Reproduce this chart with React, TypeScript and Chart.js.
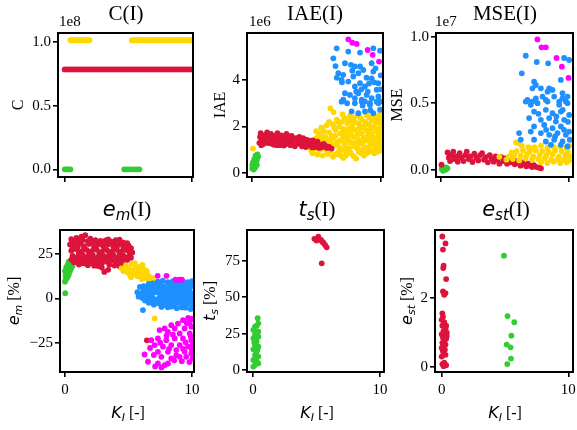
import { useEffect, useRef } from "react";
import { Chart, registerables } from "chart.js";
Chart.register(...registerables);

type P = [number, number];

const RED = "#DC143C";
const GOLD = "#FFD700";
const BLUE = "#1E90FF";
const MAG = "#FF00FF";
const GREEN = "#32CD32";

const SERIF = "'Liberation Serif', 'Times New Roman', serif";
const SANS = "'DejaVu Sans', sans-serif";

Chart.defaults.font.family = SERIF;
Chart.defaults.font.size = 15;
Chart.defaults.color = "#000";

// ---- shared x axis (K_I) ----
const kTicks = [0, 10];
const kTickLabels = ["0", "10"];

// ---- C(I), values in units of 1e8 ----
const cTicks = [0, 0.5, 1.0];
const cTickLabels = ["0.0", "0.5", "1.0"];
const cYellowLevel = 1.013;
const cYellowK = [0.45, 0.6, 0.75, 0.9, 1.05, 1.2, 1.35, 1.5, 1.65, 1.8, 1.95, 5.3, 5.45, 5.6, 5.75, 5.9, 6.05, 6.2, 6.35, 6.5, 6.65, 6.8, 6.95, 7.1, 7.25, 7.4, 7.55, 7.7, 7.85, 8.0, 8.15, 8.3, 8.45, 8.6, 8.75, 8.9, 9.05, 9.2, 9.35, 9.5, 9.65, 9.8, 9.95];
const cRedLevel = 0.784;
const cRedK = [0, 0.2, 0.4, 0.6, 0.8, 1.0, 1.2, 1.4, 1.6, 1.8, 2.0, 2.2, 2.4, 2.6, 2.8, 3.0, 3.2, 3.4, 3.6, 3.8, 4.0, 4.2, 4.4, 4.6, 4.8, 5.0, 5.2, 5.4, 5.6, 5.8, 6.0, 6.2, 6.4, 6.6, 6.8, 7.0, 7.2, 7.4, 7.6, 7.8, 8.0, 8.2, 8.4, 8.6, 8.8, 9.0, 9.2, 9.4, 9.6, 9.8, 10.0];
const cGreenLevel = 0;
const cGreenK = [0, 0.15, 0.3, 0.45, 4.7, 4.9, 5.1, 5.3, 5.5, 5.7, 5.9];

// ---- IAE(I), values in units of 1e6 ----
const iaeTicks = [0, 2, 4];
const iaeTickLabels = ["0", "2", "4"];
const iaeGreen: P[] = [[0.05, 0.2], [0.15, 0.15], [0.25, 0.22], [0.1, 0.3], [0.3, 0.3], [0.2, 0.4], [0.35, 0.45], [0.1, 0.45], [0.25, 0.55], [0.4, 0.55], [0.35, 0.65], [0.5, 0.7], [0.45, 0.8], [0.3, 0.75], [0.05, 0.35], [0.15, 0.25], [0.4, 0.35], [0.2, 0.6]];
const iaeYellowSingle: P[] = [[0.1, 1.05]];
const iaeRed: P[] = [[0.6, 1.3], [0.65, 1.55], [0.7, 1.72], [0.8, 1.45], [0.9, 1.25], [1.0, 1.62], [1.1, 1.38], [1.2, 1.75], [1.3, 1.52], [1.4, 1.28], [1.5, 1.68], [1.6, 1.42], [1.7, 1.22], [1.8, 1.6], [1.9, 1.35], [2.0, 1.72], [2.1, 1.5], [2.2, 1.2], [2.3, 1.62], [2.4, 1.4], [2.5, 1.18], [2.6, 1.55], [2.7, 1.68], [2.8, 1.32], [2.9, 1.45], [3.0, 1.2], [3.1, 1.6], [3.2, 1.38], [3.35, 1.15], [3.45, 1.5], [3.6, 1.28], [3.7, 1.55], [3.8, 1.4], [3.9, 1.15], [4.0, 1.5], [4.1, 1.3], [4.2, 1.12], [4.3, 1.42], [4.45, 1.25], [4.6, 1.38], [4.7, 1.1], [4.85, 1.3], [5.0, 1.2], [5.1, 1.35], [5.25, 1.08], [5.4, 1.22], [5.5, 1.12], [5.7, 1.18], [5.85, 1.08], [6.0, 1.12], [6.2, 1.05],
  [0.75, 1.2], [0.95, 1.5], [1.15, 1.3], [1.35, 1.65], [1.55, 1.3], [1.75, 1.5], [1.95, 1.2], [2.15, 1.38], [2.35, 1.28], [2.55, 1.45], [2.75, 1.25], [2.95, 1.58], [3.15, 1.25], [3.3, 1.48], [3.55, 1.42], [3.75, 1.25], [3.95, 1.35], [4.15, 1.4], [4.4, 1.33], [4.55, 1.18], [4.75, 1.4], [4.95, 1.12], [5.15, 1.25], [5.35, 1.15], [5.6, 1.25], [5.8, 1.15]];
const iaeYellow: P[] = [[6.1, 2.78], [6.35, 2.62], [7.05, 2.52], [7.6, 2.45], [8.2, 2.48], [8.9, 2.5], [9.5, 2.45], [9.9, 2.5],
  [6.0, 2.2], [6.6, 2.3], [7.2, 2.35], [7.9, 2.38], [8.5, 2.32], [9.1, 2.4], [9.7, 2.35], [10.0, 2.3], [8.0, 2.2], [9.3, 2.25],
  [5.4, 1.95], [5.8, 2.05], [6.3, 2.1], [6.8, 2.0], [7.4, 2.15], [7.8, 2.05], [8.3, 2.12], [8.8, 2.2], [9.2, 2.0], [9.6, 2.15], [10.0, 2.1], [7.1, 1.9], [8.6, 1.95], [9.9, 1.9],
  [5.2, 1.7], [5.6, 1.8], [6.0, 1.75], [6.5, 1.85], [6.9, 1.7], [7.3, 1.8], [7.7, 1.65], [8.1, 1.85], [8.5, 1.7], [8.9, 1.82], [9.3, 1.68], [9.7, 1.8], [10.0, 1.7], [6.2, 1.6], [7.5, 1.9], [9.0, 1.6],
  [4.6, 1.4], [5.0, 1.5], [5.4, 1.55], [5.9, 1.45], [6.3, 1.5], [6.7, 1.35], [7.1, 1.5], [7.5, 1.4], [7.9, 1.55], [8.3, 1.42], [8.7, 1.52], [9.1, 1.38], [9.5, 1.5], [9.9, 1.45], [6.5, 1.6], [8.0, 1.3], [9.3, 1.6], [4.8, 1.3],
  [4.5, 1.15], [4.9, 1.05], [5.3, 1.0], [5.8, 0.98], [6.4, 1.2], [6.8, 1.1], [7.2, 1.25], [7.6, 1.05], [8.0, 1.15], [8.4, 1.25], [8.8, 1.1], [9.2, 1.2], [9.6, 1.05], [10.0, 1.2], [7.0, 1.0], [8.6, 1.0], [9.8, 1.3], [6.6, 1.3],
  [4.7, 0.85], [5.1, 0.8], [5.5, 0.75], [5.9, 0.82], [6.3, 0.7], [6.7, 0.9], [7.1, 0.65], [7.5, 0.85], [7.9, 0.72], [8.3, 0.9], [8.7, 0.75], [9.1, 0.92], [9.5, 0.85], [9.9, 0.95], [6.1, 0.95], [8.1, 0.62], [7.3, 0.95],
  [5.0, 1.8], [5.6, 1.25], [6.1, 1.3], [6.9, 1.4], [7.3, 1.15], [7.7, 1.3], [8.2, 1.65], [8.6, 1.3], [9.0, 1.1], [9.4, 1.3], [9.8, 1.6], [10.0, 1.45], [6.5, 0.8], [6.9, 0.75], [7.3, 0.75], [7.7, 0.85], [8.5, 0.85], [8.9, 0.85], [9.3, 0.95], [9.7, 0.9], [6.7, 2.2], [7.0, 2.2], [7.6, 2.25], [8.4, 2.4], [9.4, 2.3], [9.8, 2.2], [7.0, 1.7], [7.6, 1.75], [8.3, 1.9], [8.7, 2.0], [9.5, 1.95], [5.5, 1.45], [4.6, 1.0], [5.2, 1.2], [6.0, 1.1], [7.8, 1.85], [9.2, 1.8], [10.0, 1.0], [9.0, 2.1], [6.4, 1.95], [5.7, 1.55], [7.4, 1.6], [8.2, 1.05], [8.8, 1.4], [9.6, 1.25]];
const iaeBlue: P[] = [[6.59, 5.36], [6.33, 4.93], [7.49, 5.22], [8.4, 5.18], [9.43, 5.36], [9.95, 5.26], [9.3, 4.72], [7.23, 4.72], [7.7, 4.65], [8.0, 4.58], [8.4, 4.58], [8.65, 4.43], [9.43, 4.36], [6.72, 4.29], [7.1, 4.22], [6.97, 4.0], [7.88, 4.15], [8.27, 4.29], [7.49, 3.93], [8.4, 3.86], [9.3, 4.07], [9.82, 3.86], [8.78, 3.72], [8.0, 3.72], [9.69, 3.58], [7.23, 3.43], [7.62, 3.36], [8.27, 3.43], [8.91, 3.36], [9.3, 3.22], [8.53, 3.15], [7.1, 3.15], [8.0, 3.22], [9.82, 3.29], [8.78, 3.08], [9.17, 3.0], [9.95, 3.08],
  [6.97, 3.07], [8.0, 3.0], [8.53, 3.07], [9.17, 2.93], [9.82, 3.0], [7.75, 2.65], [8.27, 2.57], [8.78, 2.65], [9.43, 2.57], [9.95, 2.72], [9.69, 3.07],
  [8.6, 2.9], [9.0, 3.5], [9.5, 3.9], [8.1, 3.5], [7.4, 3.0], [8.9, 4.1], [9.6, 4.5], [7.8, 4.4], [9.2, 2.7], [10.0, 3.6], [10.0, 4.2], [8.5, 3.6], [9.1, 3.85], [7.0, 3.9], [6.5, 4.6], [6.6, 4.1]];
const iaeMagenta: P[] = [[7.49, 5.75], [7.8, 5.6], [8.14, 5.55], [8.99, 5.29], [9.38, 5.08], [9.87, 4.79]];

// ---- MSE(I), values in units of 1e7 ----
const mseTicks = [0, 0.5, 1.0];
const mseTickLabels = ["0.0", "0.5", "1.0"];
const mseGreen: P[] = [[0.05, 0.005], [0.2, 0.015], [0.35, 0.0], [0.5, 0.01], [0.15, -0.008], [0.4, 0.018], [0.25, 0.0]];
const mseRedSingle: P[] = [[0.03, 0.037]];
const mseRed: P[] = [[0.5, 0.13], [0.6, 0.09], [0.7, 0.065], [0.8, 0.11], [0.95, 0.135], [1.05, 0.08], [1.2, 0.1], [1.3, 0.06], [1.45, 0.125], [1.6, 0.09], [1.75, 0.065], [1.9, 0.11], [2.0, 0.135], [2.15, 0.08], [2.3, 0.1], [2.45, 0.058], [2.6, 0.12], [2.75, 0.09], [2.9, 0.07], [3.05, 0.11], [3.2, 0.125], [3.35, 0.075], [3.5, 0.095], [3.65, 0.055], [3.8, 0.11], [3.95, 0.085], [4.1, 0.06], [4.25, 0.1], [4.4, 0.075], [4.55, 0.045], [4.7, 0.095], [4.85, 0.065], [5.0, 0.085], [5.15, 0.045], [5.3, 0.07], [5.45, 0.055], [5.6, 0.08], [5.75, 0.04], [5.9, 0.065], [6.05, 0.05], [6.2, 0.03], [6.35, 0.055], [6.5, 0.04], [6.65, 0.025], [6.8, 0.045], [6.95, 0.03], [7.1, 0.02], [7.25, 0.035], [7.45, 0.02], [7.65, 0.015], [7.8, 0.01]];
const mseYellow: P[] = [[4.55, 0.097], [5.86, 0.205], [6.0, 0.2], [6.3, 0.18], [6.8, 0.17], [7.3, 0.17], [7.8, 0.18], [8.3, 0.165], [8.8, 0.17], [9.3, 0.175], [9.8, 0.165], [10.0, 0.18], [7.0, 0.16],
  [5.5, 0.13], [5.9, 0.14], [6.4, 0.145], [6.9, 0.135], [7.4, 0.145], [7.9, 0.14], [8.4, 0.135], [8.9, 0.145], [9.4, 0.14], [9.9, 0.135],
  [5.3, 0.1], [5.7, 0.11], [6.2, 0.105], [6.7, 0.115], [7.2, 0.1], [7.7, 0.11], [8.2, 0.105], [8.7, 0.115], [9.2, 0.1], [9.7, 0.11], [10.0, 0.1],
  [5.1, 0.075], [5.6, 0.08], [6.1, 0.07], [6.6, 0.085], [7.1, 0.075], [7.6, 0.08], [8.1, 0.085], [8.6, 0.075], [9.1, 0.08], [9.6, 0.075], [10.0, 0.07],
  [7.8, 0.055], [8.3, 0.05], [8.8, 0.06], [9.3, 0.05], [9.8, 0.055]];
const mseBlue: P[] = [[6.61, 0.857], [7.47, 0.81], [8.36, 0.8], [9.61, 0.84], [10.0, 0.825], [6.3, 0.725], [9.35, 0.675],
  [7.26, 0.662], [7.4, 0.637], [7.13, 0.612], [7.79, 0.612], [8.44, 0.612], [8.7, 0.6], [8.31, 0.587], [9.48, 0.575], [7.4, 0.537], [7.92, 0.55], [8.83, 0.55], [9.48, 0.537], [9.87, 0.55], [6.74, 0.525], [7.13, 0.512], [8.18, 0.525], [9.22, 0.512], [9.74, 0.512],
  [6.61, 0.512], [7.0, 0.488], [7.53, 0.5], [8.31, 0.512], [9.22, 0.488], [9.87, 0.5], [7.26, 0.437], [8.18, 0.45], [8.7, 0.425], [9.35, 0.437], [10.0, 0.412], [6.87, 0.388], [7.79, 0.375], [8.44, 0.388], [8.96, 0.362], [9.61, 0.375], [7.26, 0.325], [8.05, 0.337], [8.7, 0.312], [9.35, 0.325], [10.0, 0.287], [6.09, 0.275], [7.0, 0.287], [7.79, 0.275], [8.44, 0.262], [9.09, 0.275], [9.74, 0.262], [6.22, 0.225], [7.26, 0.225], [8.18, 0.212], [8.83, 0.225], [9.48, 0.212], [10.05, 0.225], [8.57, 0.187], [9.35, 0.187], [9.87, 0.175],
  [9.0, 0.4], [9.6, 0.3], [8.2, 0.3], [9.9, 0.36], [8.9, 0.25], [9.5, 0.45], [7.6, 0.42]];
const mseMagenta: P[] = [[7.52, 0.98], [7.84, 0.92], [8.18, 0.92], [9.01, 0.84], [9.43, 0.775], [9.95, 0.69]];

// ---- e_m(I) [%] ----
const emTicks = [-25, 0, 25];
const emTickLabels = ["\u221225", "0", "25"];
const emGreen: P[] = [[0.0, 9.5], [0.1, 11], [0.05, 13], [0.2, 12], [0.15, 14.5], [0.3, 13.5], [0.0, 15.5], [0.25, 16.5], [0.1, 17.5], [0.4, 15.5], [0.35, 18], [0.5, 17], [0.2, 19], [0.45, 19.8], [0.6, 18.5], [0.55, 21], [0.7, 20.5], [0.3, 20.8], [0.65, 22.2], [0.05, 10.5], [0.02, 3.0]];
const emRed: P[] = [[0.5, 33.5], [0.9, 34.2], [1.3, 35], [1.6, 35.8], [2.0, 33.8], [2.4, 33], [2.8, 32.5], [3.2, 32.8], [3.6, 32.2], [4.0, 33], [4.3, 33.2], [4.6, 31.5], [1.1, 32.5], [2.2, 31.8],
  [0.4, 30.5], [0.8, 30], [1.2, 31], [1.5, 29.5], [1.9, 30.8], [2.3, 29.2], [2.6, 30.5], [3.0, 29.8], [3.4, 30.6], [3.8, 29.5], [4.2, 30.2], [4.6, 29.3], [5.0, 30], [5.2, 28.5], [4.9, 31.2],
  [0.5, 27], [0.9, 27.8], [1.3, 26.5], [1.7, 27.5], [2.1, 26.8], [2.5, 27.6], [2.9, 26.4], [3.3, 27.4], [3.7, 26.6], [4.1, 27.5], [4.5, 26.8], [4.9, 27.3], [5.3, 26], [5.1, 24.8],
  [0.6, 24], [1.0, 23.5], [1.4, 24.6], [1.8, 23.8], [2.2, 24.5], [2.6, 23.2], [3.0, 24.3], [3.4, 23.6], [3.8, 24.6], [4.2, 23.4], [4.6, 24.2], [5.0, 23.5], [0.5, 22],
  [0.9, 21], [1.3, 20.2], [1.7, 21.3], [2.1, 20], [2.5, 21.2], [2.9, 19.8], [3.3, 20.8], [3.7, 21.5], [4.1, 20.5], [4.5, 21.2], [4.9, 21.8], [1.1, 19.2], [2.3, 18.5],
  [2.9, 17.5], [3.1, 15], [3.4, 16.2], [2.6, 18.3], [1.8, 18.8], [3.9, 18.6], [4.4, 19], [0.7, 20.5],
  [0.7, 32], [1.0, 29], [1.4, 33], [1.8, 32.4], [2.6, 32], [3.0, 31.2], [3.4, 33.4], [3.9, 31.5], [4.4, 31.8], [0.6, 28.5], [1.1, 25.5], [1.5, 28], [1.9, 25.8], [2.3, 28.2], [2.7, 25.2], [3.1, 28], [3.5, 25.5], [3.9, 28], [4.3, 25.6], [4.7, 28], [5.1, 27.5], [0.8, 22.5], [1.2, 22.3], [1.6, 22.5], [2.0, 22.4], [2.4, 22.5], [2.8, 22.2], [3.2, 22.3], [3.6, 22.8], [4.0, 22.3], [4.4, 22.6], [4.8, 22.8], [5.2, 23], [1.5, 19.8], [2.7, 20], [3.5, 19], [4.3, 18.2],
  [6.45, -23.7]];
const emYellow: P[] = [[4.45, 17], [4.6, 15.5], [4.8, 18.5], [4.9, 15], [5.0, 17], [5.1, 13.5], [5.25, 19.5], [5.3, 16], [5.45, 14], [5.5, 20], [5.6, 17.5], [5.7, 12.5], [5.8, 15], [5.9, 18], [6.0, 13.5], [6.05, 11], [6.2, 16.5], [6.3, 14], [6.35, 11.5], [6.5, 13], [6.6, 10], [6.7, 12], [6.85, 9.5], [6.9, 11.5], [7.0, 9], [5.2, 12], [6.1, 19], [6.45, 15.5], [7.06, -11.3]];
const emBlue: P[] = [[6.9, 8.5], [7.3, 9.5], [7.7, 10], [8.1, 9.2], [8.5, 9.8], [8.9, 9], [9.3, 9.6], [9.7, 9.2], [10.0, 9.8], [7.5, 7.8],
  [5.9, 6.5], [6.2, 7], [6.6, 6.2], [7.0, 6.5], [7.4, 6], [7.8, 6.8], [8.2, 6.2], [8.6, 6.9], [9.0, 6], [9.4, 6.8], [9.8, 6.3], [10.0, 7],
  [5.7, 3.5], [6.0, 2.8], [6.4, 3.6], [6.8, 2.6], [7.2, 3.4], [7.6, 2.7], [8.0, 3.5], [8.4, 2.6], [8.8, 3.4], [9.2, 2.7], [9.6, 3.5], [10.0, 2.8], [5.8, 1],
  [6.1, 0.3], [6.5, -0.5], [6.9, 0.5], [7.3, -0.4], [7.7, 0.4], [8.1, -0.6], [8.5, 0.3], [8.9, -0.5], [9.3, 0.4], [9.7, -0.4], [10.0, 0.5], [6.3, 1.2], [7.5, 1.3], [8.7, 1.3], [9.9, 1.5],
  [6.6, -2.5], [7.0, -3.5], [7.4, -2.8], [7.8, -3.8], [8.2, -2.6], [8.6, -3.6], [9.0, -2.5], [9.4, -3.8], [9.8, -3], [7.2, -1.8], [8.4, -1.5], [9.6, -1.6],
  [8.1, -5], [8.8, -5.5], [9.5, -5.2], [9.9, -6], [7.6, -4.8], [6.14, -6.6],
  [6.2, 4.8], [6.6, 4.5], [7.0, 4.9], [7.4, 4.4], [7.8, 5], [8.2, 4.5], [8.6, 5], [9.0, 4.4], [9.4, 5], [9.8, 4.6], [6.6, 8.2], [7.1, 8], [8.3, 8], [8.7, 7.8], [9.1, 8.2], [9.5, 8.1], [9.9, 8.2], [6.3, -1.2], [6.8, -1], [7.6, -1.3], [8.0, -1.6], [8.8, -1.5], [9.2, -1.2], [10.0, -1.4], [7.9, 1.6], [8.3, 1.5], [9.1, 1.7], [9.5, 1.6], [6.7, 1.4], [10.0, -3.5], [9.2, -5.1], [8.4, -4.6]];
const emMagenta: P[] = [[7.3, 12.8], [8.0, 12.8], [8.7, 10.6], [9.0, 10.6], [9.2, 10.6],
  [9.29, -12.3], [9.82, -13.2], [9.95, -16.0], [8.9, -14.2], [8.37, -15.1], [7.85, -17.0], [8.64, -17.0], [9.42, -17.0], [7.45, -17.9], [8.11, -18.9], [9.03, -19.8], [9.82, -19.8], [6.8, -23.6], [7.32, -22.6], [7.98, -23.6], [8.64, -22.6], [9.29, -22.6], [9.95, -23.6], [7.06, -26.4], [7.72, -27.3], [8.37, -26.4], [9.03, -26.4], [9.69, -27.3], [10.05, -26.4], [7.32, -30.2], [8.11, -30.2], [8.77, -29.2], [9.42, -30.2], [9.95, -31.1], [6.27, -31.7], [7.59, -33.0], [8.37, -33.9], [9.03, -33.0], [9.55, -33.0], [10.05, -33.9], [6.54, -35.8], [7.32, -36.8], [7.85, -37.7], [8.11, -36.8], [8.77, -32.1],
  [9.6, -14], [10.0, -11.5], [9.7, -11], [8.5, -20.5], [9.5, -24.8], [7.5, -25], [8.2, -28.5], [9.3, -28.5], [10.0, -29], [7.0, -32], [8.6, -35], [9.8, -36], [7.6, -39], [7.1, -38.5], [9.2, -35.5], [8.0, -21], [9.9, -21.5], [6.7, -28]];

// ---- t_s(I) [%] ----
const tsTicks = [0, 25, 50, 75];
const tsTickLabels = ["0", "25", "50", "75"];
const tsGreen: P[] = [[0.37, 35.6], [0.42, 32.1], [0.16, 29.8], [0.03, 27.5], [0.42, 26.4], [0.16, 24.1], [0.42, 22.9], [0.03, 21.8], [0.29, 19.5], [0.16, 17.2], [0.42, 16.1], [0.03, 14.2], [0.29, 12.6], [0.16, 10.3], [0.42, 9.2], [0.03, 6.9], [0.29, 5.7], [0.42, 4.6], [0.16, 3.4], [0.03, 2.3], [0.3, 30.5], [0.25, 25], [0.1, 19], [0.35, 14], [0.2, 8]];
const tsRed: P[] = [[4.83, 90.2], [5.14, 91.8], [5.35, 89.5], [5.54, 87.6], [5.67, 86.0], [5.8, 84.4], [5.41, 73.4], [5.0, 89], [5.45, 88.3]];

// ---- e_st(I) [%] ----
const estTicks = [0, 2];
const estTickLabels = ["0", "2"];
const estRed: P[] = [[0.05, 3.8], [0.3, 3.6], [0.1, 3.42], [0.15, 2.95], [0.12, 2.88], [0.35, 2.56], [0.1, 2.2], [0.3, 2.15], [0.2, 2.1], [0.05, 1.56], [0.1, 1.46], [0.0, 1.37], [0.2, 1.3], [0.05, 1.2], [0.3, 1.1], [0.15, 1.05], [0.4, 1.0], [0.0, 0.95], [0.25, 0.92], [0.1, 0.85], [0.35, 0.82], [0.2, 0.75], [0.05, 0.7], [0.3, 0.65], [0.15, 0.6], [0.0, 0.55], [0.25, 0.5], [0.1, 0.45], [0.3, 0.35], [0.0, 0.3], [0.2, 0.12], [0.05, 0.08], [0.35, 0.05], [0.15, 0.02], [0.4, 0.9], [0.35, 1.2]];
const estGreen: P[] = [[4.92, 3.24], [5.2, 1.48], [5.73, 1.3], [5.5, 0.91], [5.13, 0.65], [5.44, 0.57], [5.47, 0.24], [5.18, 0.08]];

// ---------------------------------------------------------------
type Seg = { t: string; f: string; dy?: number };
type Label = { segs: Seg[]; x: number; y: number; rot?: boolean; align?: "left" | "center" };
type Series = { pts: P[]; color: string };
type PanelSpec = {
  box: { l: number; r: number; t: number; b: number };
  xMin: number; xMax: number; yMin: number; yMax: number;
  yTicks: number[]; yLabels: string[];
  showX: boolean;
  series: Series[];
  labels: Label[];
};

const level = (ks: number[], v: number): P[] => ks.map((k) => [k, v] as P);

const serif = (s: number) => `${s}px ${SERIF}`;
const math = (s: number) => `italic ${s}px ${SANS}`;
const title = (t: string, x: number): Label => ({ segs: [{ t, f: serif(21) }], x, y: 20, align: "center" });
const mtitle = (a: string, sub: string, x: number): Label => ({ segs: [{ t: a, f: math(21) }, { t: sub, f: math(15), dy: 4 }, { t: "(I)", f: serif(21) }], x, y: 216, align: "center" });
const ylab = (t: string, x: number): Label => ({ segs: [{ t, f: serif(16) }], x, y: 105, rot: true, align: "center" });
const mylab = (a: string, sub: string, x: number): Label => ({ segs: [{ t: a, f: math(16) }, { t: sub, f: math(11), dy: 3 }, { t: " [%]", f: serif(16) }], x, y: 301, rot: true, align: "center" });
const xlab = (x: number): Label => ({ segs: [{ t: "K", f: math(16) }, { t: "I", f: math(11), dy: 3 }, { t: " [-]", f: serif(16) }], x, y: 418, align: "center" });
const offs = (t: string, x: number): Label => ({ segs: [{ t, f: serif(15) }], x, y: 26, align: "left" });

const PANELS: PanelSpec[] = [
  {
    box: { l: 58, r: 193, t: 33, b: 177 }, xMin: -0.53, xMax: 10.13, yMin: -0.06, yMax: 1.07,
    yTicks: cTicks, yLabels: cTickLabels, showX: false,
    series: [
      { pts: level(cYellowK, cYellowLevel), color: GOLD },
      { pts: level(cRedK, cRedLevel), color: RED },
      { pts: level(cGreenK, cGreenLevel), color: GREEN },
    ],
    labels: [title("C(I)", 126), offs("1e8", 59), ylab("C", 23)],
  },
  {
    box: { l: 247, r: 383, t: 33, b: 177 }, xMin: -0.36, xMax: 10.18, yMin: -0.17, yMax: 6.02,
    yTicks: iaeTicks, yLabels: iaeTickLabels, showX: false,
    series: [
      { pts: iaeMagenta, color: MAG },
      { pts: iaeBlue, color: BLUE },
      { pts: iaeRed, color: RED },
      { pts: iaeYellowSingle, color: GOLD },
      { pts: iaeYellow, color: GOLD },
      { pts: iaeGreen, color: GREEN },
    ],
    labels: [title("IAE(I)", 315), offs("1e6", 249), ylab("IAE", 225)],
  },
  {
    box: { l: 436, r: 573, t: 33, b: 177 }, xMin: -0.4, xMax: 10.3, yMin: -0.055, yMax: 1.028,
    yTicks: mseTicks, yLabels: mseTickLabels, showX: false,
    series: [
      { pts: mseMagenta, color: MAG },
      { pts: mseBlue, color: BLUE },
      { pts: mseYellow, color: GOLD },
      { pts: mseRedSingle, color: RED },
      { pts: mseRed, color: RED },
      { pts: mseGreen, color: GREEN },
    ],
    labels: [title("MSE(I)", 505), offs("1e7", 435), ylab("MSE", 402)],
  },
  {
    box: { l: 60, r: 194, t: 230, b: 372 }, xMin: -0.39, xMax: 10.16, yMin: -41.6, yMax: 38.7,
    yTicks: emTicks, yLabels: emTickLabels, showX: true,
    series: [
      { pts: emMagenta, color: MAG },
      { pts: emBlue, color: BLUE },
      { pts: emYellow, color: GOLD },
      { pts: emRed, color: RED },
      { pts: emGreen, color: GREEN },
    ],
    labels: [mtitle("e", "m", 127), mylab("e", "m", 19), xlab(128)],
  },
  {
    box: { l: 247, r: 384, t: 230, b: 372 }, xMin: -0.47, xMax: 10.31, yMin: -1.4, yMax: 96.3,
    yTicks: tsTicks, yLabels: tsTickLabels, showX: true,
    series: [
      { pts: tsRed, color: RED },
      { pts: tsGreen, color: GREEN },
    ],
    labels: [mtitle("t", "s", 317), mylab("t", "s", 215), xlab(317)],
  },
  {
    box: { l: 435, r: 573, t: 230, b: 372 }, xMin: -0.53, xMax: 10.37, yMin: -0.15, yMax: 3.99,
    yTicks: estTicks, yLabels: estTickLabels, showX: true,
    series: [
      { pts: estGreen, color: GREEN },
      { pts: estRed, color: RED },
    ],
    labels: [mtitle("e", "st", 506), mylab("e", "st", 412), xlab(505)],
  },
];

function drawLabel(ctx: CanvasRenderingContext2D, lb: Label) {
  ctx.save();
  ctx.translate(lb.x, lb.y);
  if (lb.rot) ctx.rotate(-Math.PI / 2);
  let total = 0;
  for (const s of lb.segs) {
    ctx.font = s.f;
    total += ctx.measureText(s.t).width;
  }
  let cx = lb.align === "center" ? -total / 2 : 0;
  ctx.fillStyle = "#000";
  ctx.textAlign = "left";
  ctx.textBaseline = "alphabetic";
  for (const s of lb.segs) {
    ctx.font = s.f;
    ctx.fillText(s.t, cx, s.dy || 0);
    cx += ctx.measureText(s.t).width;
  }
  ctx.restore();
}

const YW = 40;
const XH = 30;

function makeChart(canvas: HTMLCanvasElement, s: PanelSpec) {
  const deco = {
    id: "deco",
    afterDatasetsDraw(chart: any) {
      const { ctx, chartArea: a } = chart;
      ctx.save();
      ctx.strokeStyle = "#000";
      ctx.lineWidth = 2;
      ctx.strokeRect(a.left, a.top, a.right - a.left, a.bottom - a.top);
      ctx.restore();
    },
    afterDraw(chart: any) {
      for (const lb of s.labels) drawLabel(chart.ctx, lb);
    },
  };
  const tickFont = { family: SERIF, size: 15, style: "normal", weight: "normal" };
  return new Chart(canvas, {
    type: "scatter",
    data: {
      datasets: s.series.map((se) => ({
        data: se.pts.map(([x, y]) => ({ x, y })),
        backgroundColor: se.color,
        borderColor: se.color,
        borderWidth: 0,
        pointRadius: 2.9,
        pointHoverRadius: 0,
      })),
    },
    options: {
      animation: false,
      responsive: false,
      maintainAspectRatio: false,
      devicePixelRatio: 1,
      events: [],
      font: tickFont,
      layout: { padding: { left: s.box.l - YW, top: s.box.t, right: 577 - s.box.r, bottom: 430 - s.box.b - XH } },
      plugins: { legend: { display: false }, tooltip: { enabled: false }, title: { display: false } },
      scales: {
        x: {
          type: "linear", min: s.xMin, max: s.xMax,
          afterBuildTicks: (sc: any) => { sc.ticks = kTicks.map((v) => ({ value: v })); },
          afterFit: (sc: any) => { sc.height = XH; sc.paddingLeft = 0; sc.paddingRight = 0; },
          ticks: {
            display: s.showX, autoSkip: false, maxRotation: 0, minRotation: 0, padding: 4, color: "#000",
            font: tickFont,
            callback: (v: any) => kTickLabels[kTicks.indexOf(Number(v))] ?? "",
          },
          grid: { display: true, drawOnChartArea: false, drawTicks: true, tickLength: 5, tickWidth: 1.6, tickColor: "#000", color: "#000", lineWidth: 1.6 },
          border: { display: false },
        },
        y: {
          type: "linear", min: s.yMin, max: s.yMax,
          afterBuildTicks: (sc: any) => { sc.ticks = s.yTicks.map((v) => ({ value: v })); },
          afterFit: (sc: any) => { sc.width = YW; sc.paddingTop = 0; sc.paddingBottom = 0; },
          ticks: {
            autoSkip: false, padding: 2, color: "#000",
            font: tickFont,
            callback: (v: any) => s.yLabels[s.yTicks.indexOf(Number(v))] ?? "",
          },
          grid: { display: true, drawOnChartArea: false, drawTicks: true, tickLength: 5, tickWidth: 1.6, tickColor: "#000", color: "#000", lineWidth: 1.6 },
          border: { display: false },
        },
      },
    } as any,
    plugins: [deco],
  });
}

function Panel({ spec }: { spec: PanelSpec }) {
  const ref = useRef<HTMLCanvasElement>(null);
  useEffect(() => {
    const c = makeChart(ref.current!, spec);
    return () => c.destroy();
  }, [spec]);
  return (
    <canvas
      ref={ref}
      width={577}
      height={430}
      style={{ position: "absolute", left: 0, top: 0, width: 577, height: 430 }}
    />
  );
}

export default function App() {
  return (
    <div style={{ position: "absolute", left: 0, top: 0, width: 577, height: 430, background: "#fff", overflow: "hidden" }}>
      {PANELS.map((p, i) => (
        <Panel key={i} spec={p} />
      ))}
    </div>
  );
}
